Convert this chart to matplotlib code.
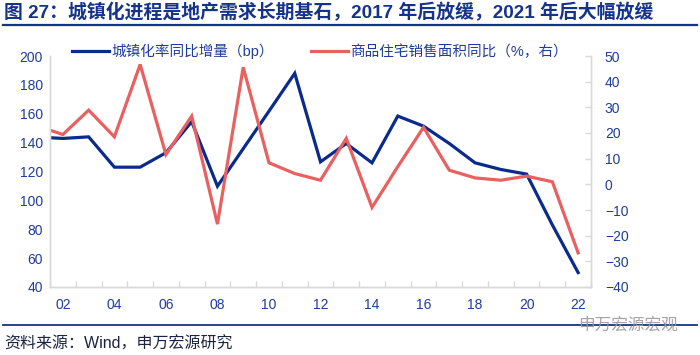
import matplotlib
matplotlib.use("Agg")
import matplotlib.pyplot as plt

plt.rcParams['font.family'] = ['Liberation Sans', 'Noto Sans CJK SC', 'DejaVu Sans']

# 数据：2001 年的点只画在轴外被裁掉，轴从 2002 开始
years = list(range(2001, 2023))
urban_bp = [143.9, 142.9, 144.0, 123.0, 123.0, 133.0, 154.5, 109.8, 135.8, 161.8,
            188.0, 126.7, 139.4, 126.0, 158.4, 151.4, 139.4, 126.0, 121.4, 118.2,
            83.0, 50.0]
sales_yoy = [22.8, 19.4, 28.9, 18.5, 46.7, 11.6, 26.6, -15.5, 45.6, 8.4,
             4.2, 1.6, 17.9, -9.0, 6.9, 22.2, 5.5, 2.5, 1.6, 3.2,
             1.0, -26.7]
xtick_years = list(range(2002, 2023, 2))

BLUE = "#0A2A8C"
RED = "#E8605F"
TXT = "#1F3C9B"
GRID = "#D9D9D9"
DARK = "#15338A"

fig = plt.figure(figsize=(7, 3.55), dpi=100)


def rule(y_px, lw):
    # 用一个零高度坐标轴的下边框当作横线
    r = fig.add_axes([3/700, 1 - y_px/355, 694/700, 0.001])
    r.set_xticks([])
    r.set_yticks([])
    r.patch.set_visible(False)
    for s in ("top", "left", "right"):
        r.spines[s].set_visible(False)
    r.spines["bottom"].set_color(DARK)
    r.spines["bottom"].set_linewidth(lw)


rule(25, 1.6)
rule(325, 1.3)

ax = fig.add_axes([50/700, 1-287/355, 541/700, 231/355])
ax2 = ax.twinx()

l1, = ax.plot(years, urban_bp, color=BLUE, lw=2.3, solid_joinstyle="miter")
l2, = ax2.plot(years, sales_yoy, color=RED, lw=2.3, solid_joinstyle="miter")

ax.set_xlim(2001.5, 2022.5)
ax.set_ylim(40, 200)
ax.set_yticks(range(40, 201, 20))
ax2.set_ylim(-40, 50)
ax2.set_yticks(range(-40, 51, 10))

ax.set_xticks(xtick_years)
ax.set_xticklabels([f"{y % 100:02d}" for y in xtick_years])
ax.set_xticks([y + 0.5 for y in range(2001, 2023)], minor=True)

for a in (ax, ax2):
    a.spines["top"].set_visible(False)
    for s in ("left", "right", "bottom"):
        a.spines[s].set_color(GRID)
        a.spines[s].set_linewidth(1.0)

ax.tick_params(axis="x", which="major", length=0, pad=8, labelsize=10, labelcolor=TXT)
ax.tick_params(axis="x", which="minor", direction="in", length=4, color=GRID, width=1)
ax.tick_params(axis="y", length=0, pad=5, labelsize=10, labelcolor=TXT)
ax2.tick_params(axis="y", direction="in", length=4, color=GRID, width=1,
                pad=10, labelsize=10, labelcolor=TXT)

leg = fig.legend([l1, l2], ["城镇化率同比增量（bp）", "商品住宅销售面积同比（%，右）"],
                 loc="center", bbox_to_anchor=(320/700, 1-51/355), ncol=2,
                 frameon=False, fontsize=10.5, handlelength=2.5, handletextpad=0.15,
                 columnspacing=2.6, borderpad=0)
for t in leg.get_texts():
    t.set_color(TXT)

# 标题与底部来源
fig.text(4/700, 1-13/355, "图 27：城镇化进程是地产需求长期基石，2017 年后放缓，2021 年后大幅放缓",
         fontsize=13.6, fontweight="bold", color=DARK, va="center", ha="left")
fig.text(4/700, 1-344/355, "资料来源：Wind，申万宏源研究", fontsize=11.5,
         color="#1A2340", va="center", ha="left")
fig.text(678/700, 1-325/355, "申万宏源宏观", fontsize=12, color="#9A9A9A",
         va="center", ha="right", alpha=0.9)

fig.savefig("out.png", dpi=100)
